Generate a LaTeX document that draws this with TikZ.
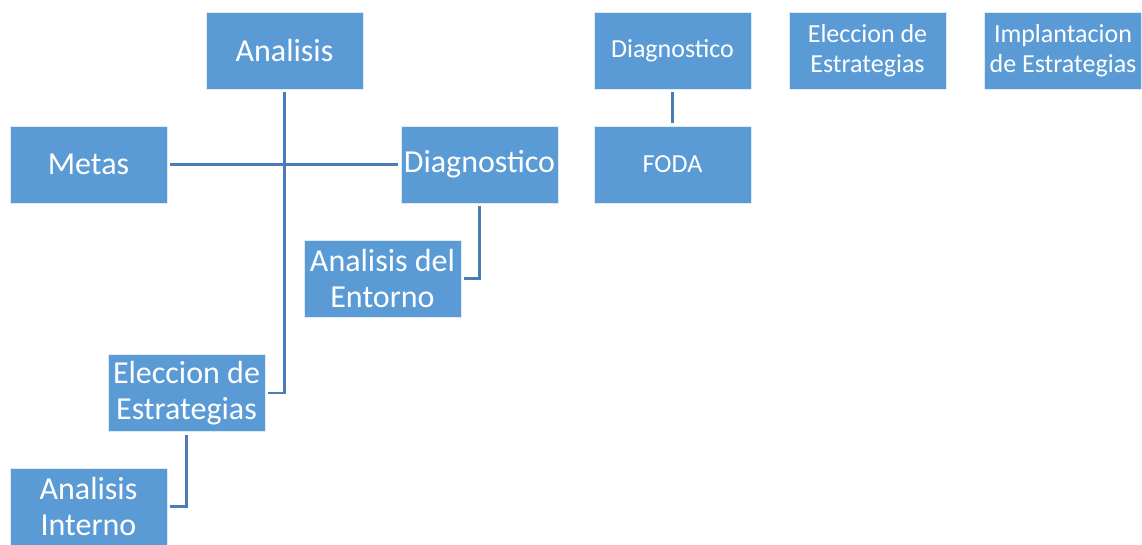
\documentclass[tikz,border=0pt]{standalone}
\usepackage{fontspec}
\setmainfont{Carlito}
\begin{document}
\begin{tikzpicture}[x=1pt,y=-1pt,
  box/.style={fill=boxblue,draw=white!80!boxblue,line width=0.8pt,
    minimum width=157pt,minimum height=77pt,inner sep=1pt,
    text=white,align=center,anchor=center},
  big/.style={box,font=\fontsize{32}{36}\selectfont},
  small/.style={box,font=\fontsize{26}{30}\selectfont},
  link/.style={draw=lineblue,line width=2.6pt,shorten <=3pt,shorten >=3pt}]
\definecolor{boxblue}{HTML}{5B9BD5}
\definecolor{lineblue}{HTML}{4A7DB5}
\useasboundingbox (0,0) rectangle (1142,545);
% left tree
\node[big] (analisis) at (284.5,50.5) {Analisis};
\node[big] (metas) at (88.5,164.5) {Metas};
\node[big] (diag) at (479.5,164.5) {Diagnostico};
\node[big] (entorno) at (382.5,278.5) {Analisis del\\Entorno};
\node[big] (eleccion) at (186.5,393) {Eleccion de\\Estrategias};
\node[big] (interno) at (88.5,506.5) {Analisis\\Interno};
% right row
\node[small] (diag2) at (672.5,50.5) {Diagnostico};
\node[small] (foda) at (672.5,164.5) {FODA};
\node[small] (elec2) at (867.5,50.5) {Eleccion de\\Estrategias};
\node[small] (impl) at (1063,50.5) {Implantacion\\de Estrategias};
% connectors
\draw[link] (analisis.south) |- (eleccion.east);
\draw[link] (metas.east) -- (diag.west);
\draw[link] (diag.south) |- (entorno.east);
\draw[link] (eleccion.south) |- (interno.east);
\draw[link] (diag2.south) -- (foda.north);
\end{tikzpicture}
\end{document}
